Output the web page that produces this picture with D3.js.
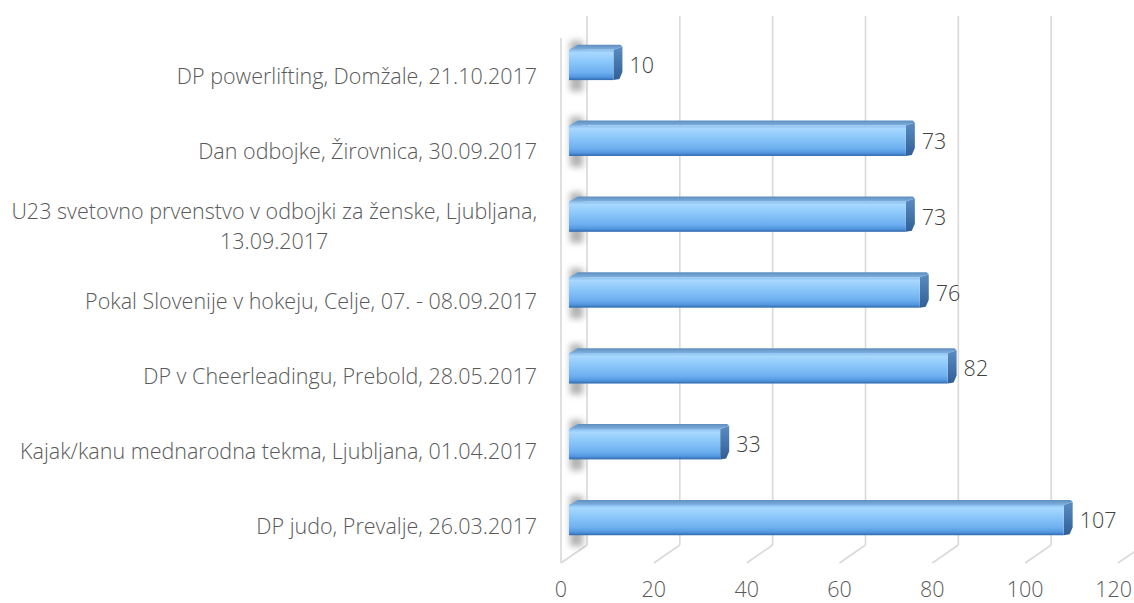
<!DOCTYPE html>
<html>
<head>
<meta charset="utf-8">
<script src="https://cdn.jsdelivr.net/npm/d3@7"></script>
<style>
  body { margin: 0; background: #fff; }
  text { font-family: "Open Sans", sans-serif; font-weight: 300; }
</style>
</head>
<body>
<script>
// data
const categories = [
  ["DP powerlifting, Domžale, 21.10.2017"],
  ["Dan odbojke, Žirovnica, 30.09.2017"],
  ["U23 svetovno prvenstvo v odbojki za ženske, Ljubljana,", "13.09.2017"],
  ["Pokal Slovenije v hokeju, Celje, 07. - 08.09.2017"],
  ["DP v Cheerleadingu, Prebold, 28.05.2017"],
  ["Kajak/kanu mednarodna tekma, Ljubljana, 01.04.2017"],
  ["DP judo, Prevalje, 26.03.2017"]
];
const values = [10, 73, 73, 76, 82, 33, 107];
const ticks = [0, 20, 40, 60, 80, 100, 120];

const width = 1134, height = 603;
const fontSize = 21.5;
const svg = d3.select("body").append("svg")
  .attr("width", width)
  .attr("height", height);

// front plane, back wall and bar depth scales
const xFront = d3.scaleLinear().domain([0, 120]).range([561, 1118]);
const xBack = d3.scaleLinear().domain([0, 120]).range([587, 1144]);
const xBar = d3.scaleLinear().domain([0, 120]).range([569, 1126]);
const idx = d3.range(categories.length);
const yLabel = d3.scaleBand().domain(idx).range([38, 563]);
const yBar = d3.scaleBand().domain(idx).range([27, 558]).paddingInner(0.6).paddingOuter(0.3);

const defs = svg.append("defs");
const frontGrad = defs.append("linearGradient").attr("id", "front")
  .attr("x1", 0).attr("y1", 0).attr("x2", 0).attr("y2", 1);
[[0, "#86bdef"], [0.1, "#a8d8ff"], [0.35, "#8fcafb"], [0.75, "#6dafef"], [0.9, "#5296df"], [1, "#2f69ab"]]
  .forEach(s => frontGrad.append("stop").attr("offset", s[0]).attr("stop-color", s[1]));
const topGrad = defs.append("linearGradient").attr("id", "topface")
  .attr("x1", 0).attr("y1", 0).attr("x2", 0).attr("y2", 1);
topGrad.append("stop").attr("offset", 0).attr("stop-color", "#5d8ebf");
topGrad.append("stop").attr("offset", 1).attr("stop-color", "#7fb0df");
const capGrad = defs.append("linearGradient").attr("id", "cap")
  .attr("x1", 0).attr("y1", 0).attr("x2", 0).attr("y2", 1);
capGrad.append("stop").attr("offset", 0).attr("stop-color", "#5a8cc2");
capGrad.append("stop").attr("offset", 1).attr("stop-color", "#2f5f96");
defs.append("filter").attr("id", "blur")
  .attr("x", "-100%").attr("y", "-50%").attr("width", "300%").attr("height", "200%")
  .append("feGaussianBlur").attr("stdDeviation", 3);

// walls and gridlines
const grid = svg.append("g").attr("stroke", "#d9d9d9").attr("stroke-width", 1.6).attr("fill", "none");
grid.selectAll("line.back").data(ticks).join("line")
  .attr("x1", d => xBack(d)).attr("x2", d => xBack(d))
  .attr("y1", 16).attr("y2", 545);
grid.selectAll("line.floor").data(ticks).join("line")
  .attr("x1", d => xBack(d)).attr("y1", 545)
  .attr("x2", d => xFront(d)).attr("y2", 563);
grid.append("line")
  .attr("x1", xFront(0)).attr("x2", xFront(0))
  .attr("y1", 38).attr("y2", 563);

// bars
const dx = 9, dy = 5;
const bars = svg.append("g").selectAll("g").data(values).join("g");
bars.append("rect")
  .attr("x", xBar(0) + 1)
  .attr("y", (d, i) => yBar(i) - 9)
  .attr("width", 13)
  .attr("height", yBar.bandwidth() + 20)
  .attr("fill", "#808080")
  .attr("opacity", 0.6)
  .attr("filter", "url(#blur)");
bars.append("polygon")
  .attr("points", (d, i) => {
    const x0 = xBar(0), x1 = xBar(d) - 2, y0 = yBar(i);
    return [[x0, y0], [x0 + dx, y0 - dy], [x1 + dx - 2, y0 - dy], [x1 + dx, y0 - dy + 2], [x1, y0]].join(" ");
  })
  .attr("fill", "url(#topface)");
bars.append("polygon")
  .attr("points", (d, i) => {
    const x1 = xBar(d) - 2, y0 = yBar(i), y1 = y0 + yBar.bandwidth();
    return [[x1, y0], [x1 + dx, y0 - dy + 2], [x1 + dx, y1 - dy - 3], [x1 + dx - 3, y1 - 1], [x1, y1]].join(" ");
  })
  .attr("fill", "url(#cap)");
bars.append("rect")
  .attr("x", xBar(0))
  .attr("y", (d, i) => yBar(i))
  .attr("width", d => xBar(d) - 2 - xBar(0))
  .attr("height", yBar.bandwidth())
  .attr("fill", "url(#front)");

// value labels
svg.append("g").selectAll("text").data(values).join("text")
  .attr("x", d => xBar(d) + 14)
  .attr("y", (d, i) => yBar(i) + yBar.bandwidth() / 2 + 8)
  .attr("font-size", fontSize)
  .attr("fill", "#404040")
  .text(d => d);

// category labels
const cat = svg.append("g").selectAll("text").data(categories).join("text")
  .attr("font-size", fontSize)
  .attr("fill", "#595959")
  .attr("y", (d, i) => yLabel(i) + yLabel.bandwidth() / 2 + 8 - (d.length - 1) * 15);
cat.each(function(d) {
  const t = d3.select(this);
  const spans = t.selectAll("tspan").data(d).join("tspan")
    .attr("dy", (s, j) => j ? 30 : 0)
    .text(s => s);
  const w = d3.max(spans.nodes(), n => n.getComputedTextLength());
  spans.attr("text-anchor", "middle").attr("x", 537 - w / 2);
});

// x axis tick labels (kept inside the right edge)
svg.append("g").selectAll("text").data(ticks).join("text")
  .attr("y", 597)
  .attr("text-anchor", "middle")
  .attr("font-size", fontSize)
  .attr("fill", "#595959")
  .text(d => d)
  .attr("x", function(d) {
    const w = this.getComputedTextLength();
    return Math.min(xFront(d), width - w / 2 - 2);
  });
</script>
</body>
</html>
